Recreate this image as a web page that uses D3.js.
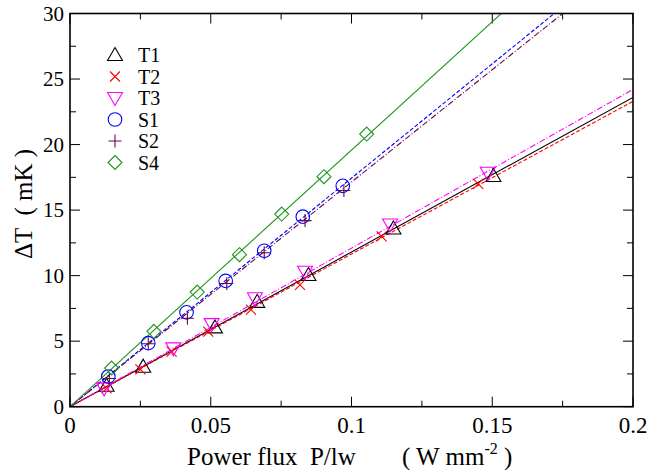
<!DOCTYPE html>
<html>
<head>
  <meta charset='utf-8'>
  <title>Delta T vs power flux</title>
  <script src="https://cdnjs.cloudflare.com/ajax/libs/d3/7.8.5/d3.min.js"></script>
  <style>
    html, body { margin: 0; padding: 0; background: #fff; }
    svg text { font-family: "Liberation Serif", "Times New Roman", Tinos, "DejaVu Serif", serif; white-space: pre; }
  </style>
</head>
<body>
  <svg id="chart"></svg>
  <script>
    // series names
    const names = ["T1", "T2", "T3", "S1", "S2", "S4"];

    const xT1 = [0.013, 0.026, 0.0515, 0.0665, 0.0847, 0.1149, 0.1504];
    const yT1 = [1.6, 3.05, 6.05, 8.0, 10.05, 13.6, 17.6];
    const xT2 = [0.013, 0.025, 0.0361, 0.0491, 0.0643, 0.0817, 0.1107, 0.145];
    const yT2 = [1.4, 2.85, 4.2, 5.72, 7.4, 9.3, 13.0, 17.0];
    const xT3 = [0.0121, 0.0367, 0.0503, 0.0657, 0.0835, 0.1137, 0.1484];
    const yT3 = [1.4, 4.45, 6.3, 8.27, 10.3, 13.9, 17.85];
    const xS1 = [0.0136, 0.0278, 0.0414, 0.0553, 0.069, 0.0827, 0.0969];
    const yS1 = [2.3, 4.85, 7.2, 9.6, 11.9, 14.5, 16.85];
    const xS2 = [0.014, 0.0278, 0.0417, 0.0557, 0.069, 0.0835, 0.0973];
    const yS2 = [2.15, 4.8, 6.75, 9.4, 11.75, 14.2, 16.5];
    const xS4 = [0.0148, 0.0298, 0.0452, 0.0602, 0.0752, 0.0902, 0.1054];
    const yS4 = [2.95, 5.75, 8.75, 11.6, 14.7, 17.55, 20.8];

    // slope of the fitted line through the origin (mK per W mm^-2)
    const fitSlope = [118, 116.5, 121, 174.4, 171.4, 195.8];

    const xTicks = [0, 0.05, 0.1, 0.15, 0.2];
    const xTickLabels = ["0", "0.05", "0.1", "0.15", "0.2"];
    const yTicks = [0, 5, 10, 15, 20, 25, 30];

    const xs = [xT1, xT2, xT3, xS1, xS2, xS4];
    const ys = [yT1, yT2, yT3, yS1, yS2, yS4];

    const colors = ["#000000", "#ff0000", "#ff00ff", "#0000ff", "#670748", "#1a961a"];
    const dashes = [null, "4,2", "6,2,1,2", "4,2", "6,2,1,2", null];

    const width = 650, height = 470;
    const pLeft = 70, pRight = 633, pTop = 13.5, pBottom = 406.7;

    const svg = d3.select('#chart').attr('width', width).attr('height', height);

    const x = d3.scaleLinear().domain([0, 0.2]).range([pLeft, pRight]);
    const y = d3.scaleLinear().domain([0, 30]).range([pBottom, pTop]);

    svg.append('defs').append('clipPath').attr('id', 'clip')
      .append('rect').attr('x', pLeft).attr('y', pTop)
      .attr('width', pRight - pLeft).attr('height', pBottom - pTop);

    // ticks inward on all four sides
    const xMinor = d3.range(0, 0.2001, 0.025);
    const yMinor = d3.range(0, 30.01, 2.5);
    const tickG = svg.append('g').attr('stroke', '#000').attr('stroke-width', 1);
    xMinor.forEach((v, i) => {
      const len = i % 2 == 0 ? 10 : 6;
      tickG.append('line').attr('x1', x(v)).attr('x2', x(v)).attr('y1', pBottom).attr('y2', pBottom - len);
      tickG.append('line').attr('x1', x(v)).attr('x2', x(v)).attr('y1', pTop).attr('y2', pTop + len);
    });
    yMinor.forEach((v, i) => {
      const len = i % 2 == 0 ? 10 : 6;
      tickG.append('line').attr('y1', y(v)).attr('y2', y(v)).attr('x1', pLeft).attr('x2', pLeft + len);
      tickG.append('line').attr('y1', y(v)).attr('y2', y(v)).attr('x1', pRight).attr('x2', pRight - len);
    });

    // tick labels
    svg.append('g').selectAll('text').data(xTicks).join('text')
      .attr('x', d => x(d)).attr('y', pBottom + 26)
      .attr('text-anchor', 'middle').attr('font-size', 23)
      .text((d, i) => xTickLabels[i]);
    svg.append('g').selectAll('text').data(yTicks).join('text')
      .attr('x', pLeft - 6).attr('y', d => y(d) + 7)
      .attr('text-anchor', 'end').attr('font-size', 21)
      .text(d => d);

    // fit lines
    const lines = svg.append('g').attr('clip-path', 'url(#clip)');
    fitSlope.forEach((s, i) => {
      lines.append('line')
        .attr('x1', x(0)).attr('y1', y(0))
        .attr('x2', x(0.2)).attr('y2', y(0.2 * s))
        .attr('stroke', colors[i]).attr('stroke-width', 1.1)
        .attr('stroke-dasharray', dashes[i]);
    });

    // markers
    function marker(g, k, cx, cy, c) {
      if (k == 0) {
        g.append('path').attr('d', `M${cx},${cy - 7.5}L${cx + 7.5},${cy + 5.5}L${cx - 7.5},${cy + 5.5}Z`)
          .attr('fill', 'none').attr('stroke', c);
      } else if (k == 1) {
        g.append('path').attr('d', `M${cx - 5},${cy - 5}L${cx + 5},${cy + 5}M${cx - 5},${cy + 5}L${cx + 5},${cy - 5}`)
          .attr('stroke', c);
      } else if (k == 2) {
        g.append('path').attr('d', `M${cx},${cy + 7.5}L${cx + 7.5},${cy - 5.5}L${cx - 7.5},${cy - 5.5}Z`)
          .attr('fill', 'none').attr('stroke', c);
      } else if (k == 3) {
        g.append('circle').attr('cx', cx).attr('cy', cy).attr('r', 6.8)
          .attr('fill', 'none').attr('stroke', c);
      } else if (k == 4) {
        g.append('path').attr('d', `M${cx - 6.5},${cy}L${cx + 6.5},${cy}M${cx},${cy - 6.5}L${cx},${cy + 6.5}`)
          .attr('stroke', c);
      } else {
        g.append('path').attr('d', `M${cx},${cy - 7}L${cx + 7},${cy}L${cx},${cy + 7}L${cx - 7},${cy}Z`)
          .attr('fill', 'none').attr('stroke', c);
      }
    }

    const pts = svg.append('g').attr('stroke-width', 1.1);
    xs.forEach((arr, k) => {
      arr.forEach((v, j) => marker(pts, k, x(v), y(ys[k][j]), colors[k]));
    });

    // legend
    const leg = svg.append('g');
    names.forEach((n, k) => {
      const ly = 55 + k * 21.5;
      marker(leg.append('g').attr('stroke-width', 1.1), k, 115, ly, colors[k]);
      leg.append('text').attr('x', 138).attr('y', ly + 7)
        .attr('font-size', 20).text(n);
    });

    // frame
    svg.append('rect').attr('x', pLeft).attr('y', pTop)
      .attr('width', pRight - pLeft).attr('height', pBottom - pTop)
      .attr('fill', 'none').attr('stroke', '#000').attr('stroke-width', 1.6);

    // axis titles
    const xt = svg.append('text').attr('x', 187).attr('y', 465).attr('font-size', 25);
    xt.append('tspan').text('Power flux  P/lw');
    xt.append('tspan').attr('x', 402).text('( W mm');
    xt.append('tspan').attr('font-size', 16).attr('dy', -11).text('-2');
    xt.append('tspan').attr('dy', 11).text(' )');

    svg.append('text')
      .attr('transform', 'translate(32,204) rotate(-90)')
      .attr('text-anchor', 'middle').attr('font-size', 25)
      .text('\u0394T  ( mK )');
  </script>
</body>
</html>
